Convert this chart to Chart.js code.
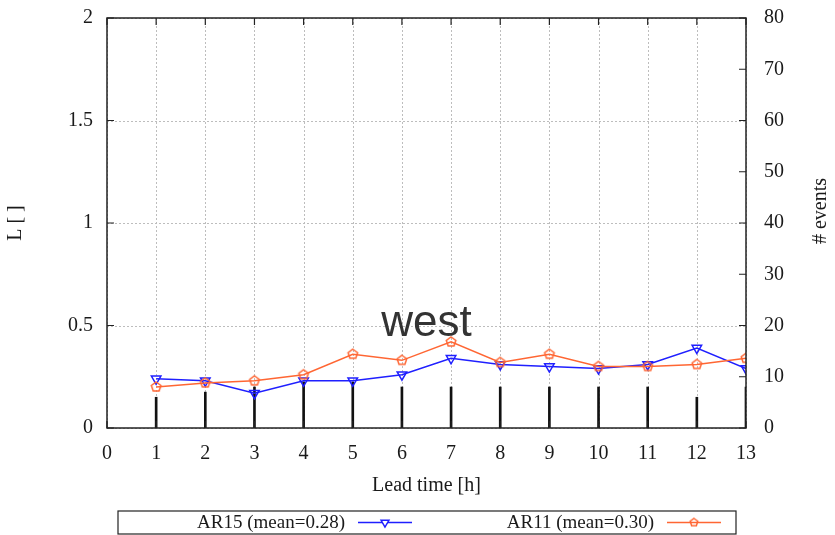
<!DOCTYPE html>
<html>
<head>
<meta charset="utf-8">
<script src="https://cdn.jsdelivr.net/npm/chart.js@4.4.0/dist/chart.umd.min.js"></script>
<style>
  html, body { margin: 0; padding: 0; background: #fff; }
</style>
</head>
<body>
<canvas id="chart" width="835" height="535"></canvas>
<script>
const leadTimes = [1, 2, 3, 4, 5, 6, 7, 8, 9, 10, 11, 12, 13];
const ar15 = [0.24, 0.23, 0.17, 0.23, 0.23, 0.26, 0.34, 0.31, 0.30, 0.29, 0.31, 0.39, 0.29];
const ar11 = [0.20, 0.22, 0.23, 0.26, 0.36, 0.33, 0.42, 0.32, 0.36, 0.30, 0.30, 0.31, 0.34];
const events = [6, 7, 8, 9, 9, 8, 8, 8, 8, 8, 8, 6, 8];
const ar15Label = 'AR15 (mean=0.28)';
const ar11Label = 'AR11 (mean=0.30)';
const panelTitle = 'west';

const serif = '"Liberation Serif", "DejaVu Serif", serif';
const blue = '#1f1fff';
const orange = '#ff6633';
const textColor = '#1a1a1a';

// hollow pentagon marker, drawn once into a small canvas
function makePentagon(r, color) {
  const size = r * 2 + 4;
  const c = document.createElement('canvas');
  c.width = size; c.height = size;
  const g = c.getContext('2d');
  g.strokeStyle = color;
  g.lineWidth = 1.5;
  g.beginPath();
  for (let i = 0; i < 5; i++) {
    const a = -Math.PI / 2 + i * 2 * Math.PI / 5;
    const px = size / 2 + r * Math.cos(a);
    const py = size / 2 + r * Math.sin(a);
    if (i === 0) g.moveTo(px, py); else g.lineTo(px, py);
  }
  g.closePath();
  g.stroke();
  return c;
}
const pentagon = makePentagon(5, orange);
const pentagonSmall = makePentagon(4, orange);

const fmt = v => String(+Number(v).toFixed(2));

const framePlugin = {
  id: 'frame',
  beforeDatasetsDraw(chart) {
    const {ctx, chartArea: a, scales: {x, y}} = chart;
    ctx.save();
    ctx.strokeStyle = '#bdbdbd';
    ctx.lineWidth = 1;
    ctx.setLineDash([2, 2]);
    x.ticks.forEach(t => {
      const px = Math.round(x.getPixelForValue(t.value)) + 0.5;
      ctx.beginPath(); ctx.moveTo(px, a.top); ctx.lineTo(px, a.bottom); ctx.stroke();
    });
    y.ticks.forEach(t => {
      const py = Math.round(y.getPixelForValue(t.value)) + 0.5;
      ctx.beginPath(); ctx.moveTo(a.left, py); ctx.lineTo(a.right, py); ctx.stroke();
    });
    ctx.restore();
  },
  afterDatasetsDraw(chart) {
    const {ctx, chartArea: a, scales: {x, y, y2}} = chart;
    ctx.save();
    ctx.strokeStyle = '#222';
    ctx.lineWidth = 1.5;
    ctx.strokeRect(a.left, a.top, a.right - a.left, a.bottom - a.top);
    const tl = 7;
    ctx.lineWidth = 1.2;
    ctx.beginPath();
    x.ticks.forEach(t => {
      const px = x.getPixelForValue(t.value);
      ctx.moveTo(px, a.bottom); ctx.lineTo(px, a.bottom - tl);
      ctx.moveTo(px, a.top); ctx.lineTo(px, a.top + tl);
    });
    y.ticks.forEach(t => {
      const py = y.getPixelForValue(t.value);
      ctx.moveTo(a.left, py); ctx.lineTo(a.left + tl, py);
    });
    y2.ticks.forEach(t => {
      const py = y2.getPixelForValue(t.value);
      ctx.moveTo(a.right, py); ctx.lineTo(a.right - tl, py);
    });
    ctx.stroke();

    // panel name inside the plot
    ctx.fillStyle = '#333';
    ctx.font = '44px "Liberation Sans", Arial, sans-serif';
    ctx.textAlign = 'center';
    ctx.textBaseline = 'alphabetic';
    ctx.fillText(panelTitle, (a.left + a.right) / 2, y.getPixelForValue(0.45));
    ctx.restore();
  },
  afterDraw(chart) {
    const {ctx, chartArea: a} = chart;
    ctx.save();
    // right axis title, reading bottom to top
    ctx.fillStyle = textColor;
    ctx.font = '20px ' + serif;
    ctx.textAlign = 'center';
    ctx.textBaseline = 'middle';
    ctx.translate(821, (a.top + a.bottom) / 2 - 12);
    ctx.rotate(-Math.PI / 2);
    ctx.fillText('# events', 0, 0);
    ctx.restore();

    // legend box
    ctx.save();
    const bx = 118, by = 511, bw = 618, bh = 23;
    ctx.strokeStyle = '#222';
    ctx.lineWidth = 1.2;
    ctx.strokeRect(bx, by, bw, bh);
    const items = [
      {label: ar15Label, color: blue, style: 'triangle', rot: 180, r: 4.5},
      {label: ar11Label, color: orange, style: pentagonSmall, rot: 0, r: 4}
    ];
    ctx.font = '19px ' + serif;
    ctx.textBaseline = 'middle';
    ctx.textAlign = 'right';
    items.forEach((it, i) => {
      const cx = bx + i * bw / 2;
      const cy = by + bh / 2;
      ctx.fillStyle = textColor;
      ctx.fillText(it.label, cx + 227, cy + 1);
      ctx.strokeStyle = it.color;
      ctx.lineWidth = 1.5;
      ctx.beginPath(); ctx.moveTo(cx + 240, cy); ctx.lineTo(cx + 294, cy); ctx.stroke();
      ctx.fillStyle = '#fff';
      Chart.helpers.drawPoint(ctx, {pointStyle: it.style, rotation: it.rot, radius: it.r, borderWidth: 1.5}, cx + 267, cy);
    });
    ctx.restore();
  }
};

const noPad = s => { s.paddingTop = 0; s.paddingBottom = 0; };

new Chart(document.getElementById('chart'), {
  type: 'line',
  data: {
    datasets: [
      {
        type: 'bar',
        label: 'events',
        data: leadTimes.map((t, i) => ({x: t, y: events[i]})),
        yAxisID: 'y2',
        backgroundColor: '#111',
        barThickness: 2,
        grouped: false,
        order: 2
      },
      {
        label: ar15Label,
        data: leadTimes.map((t, i) => ({x: t, y: ar15[i]})),
        yAxisID: 'y',
        borderColor: blue,
        borderWidth: 1.5,
        pointStyle: 'triangle',
        pointRotation: 180,
        pointRadius: 5.5,
        pointBorderWidth: 1.5,
        pointBorderColor: blue,
        pointBackgroundColor: 'rgba(0,0,0,0)',
        tension: 0,
        order: 1
      },
      {
        label: ar11Label,
        data: leadTimes.map((t, i) => ({x: t, y: ar11[i]})),
        yAxisID: 'y',
        borderColor: orange,
        borderWidth: 1.5,
        pointStyle: pentagon,
        pointRadius: 5,
        tension: 0,
        order: 0
      }
    ]
  },
  options: {
    responsive: false,
    animation: false,
    devicePixelRatio: 1,
    layout: {padding: {left: 0, right: 0, top: 18, bottom: 35}},
    plugins: {legend: {display: false}, tooltip: {enabled: false}},
    scales: {
      x: {
        type: 'linear', min: 0, max: 13, offset: false,
        ticks: {stepSize: 1, padding: 14, color: textColor, font: {family: serif, size: 20}, maxRotation: 0},
        grid: {display: false, drawTicks: false},
        border: {display: false},
        title: {display: true, text: 'Lead time [h]', color: textColor, font: {family: serif, size: 20}, padding: {top: 4, bottom: 2}},
        afterFit: s => { s.height = 72; s.paddingLeft = 0; s.paddingRight = 0; }
      },
      y: {
        position: 'left', min: 0, max: 2,
        ticks: {stepSize: 0.5, padding: 14, color: textColor, font: {family: serif, size: 20}, callback: fmt},
        grid: {display: false, drawTicks: false},
        border: {display: false},
        title: {display: true, text: 'L [ ]', color: textColor, font: {family: serif, size: 20}, padding: {top: 4, bottom: 4}},
        afterFit: s => { s.width = 107; noPad(s); }
      },
      y2: {
        position: 'right', min: 0, max: 80,
        ticks: {stepSize: 10, padding: 18, color: textColor, font: {family: serif, size: 20}, callback: fmt},
        grid: {display: false, drawTicks: false},
        border: {display: false},
        afterFit: s => { s.width = 89; noPad(s); }
      }
    }
  },
  plugins: [framePlugin]
});
</script>
</body>
</html>
